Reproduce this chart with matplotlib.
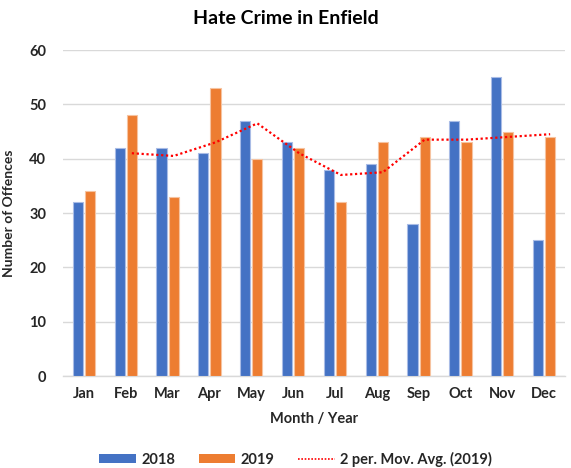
import numpy as np
import pandas as pd
import matplotlib.pyplot as plt
from matplotlib.patches import Patch
from matplotlib.lines import Line2D

plt.rcParams['font.family'] = ['Lato', 'DejaVu Sans']

# data
months = ['Jan', 'Feb', 'Mar', 'Apr', 'May', 'Jun', 'Jul', 'Aug', 'Sep', 'Oct', 'Nov', 'Dec']
y2018 = [32, 42, 42, 41, 47, 43, 38, 39, 28, 47, 55, 25]
y2019 = [34, 48, 33, 53, 40, 42, 32, 43, 44, 43, 45, 44]

# 2 period moving average of 2019 (Excel trendline)
mov_avg = pd.Series(y2019).rolling(2).mean()

blue = '#4472C4'
orange = '#ED7D31'

fig = plt.figure(figsize=(5.71, 4.68), dpi=100)
ax = fig.add_axes([63 / 571, 1 - 376 / 468, 502 / 571, 326 / 468])

x = np.arange(len(months))
w = 0.24
off = 0.145
ax.bar(x - off, y2018, w, color=blue, edgecolor='#A9BCE6', linewidth=0.8, zorder=3)
ax.bar(x + off, y2019, w, color=orange, edgecolor='#F6C3A0', linewidth=0.8, zorder=3)

mask = mov_avg.notna().values
ax.plot((x + off)[mask], mov_avg[mask], color='#FF0000', linestyle=(0, (1, 1.2)),
        linewidth=1.6, zorder=4)

ax.set_xlim(-0.5, 11.5)
ax.set_ylim(0, 60)
ax.set_yticks(range(0, 61, 10))
ax.set_xticks(x)
ax.set_xticklabels(months)
ax.grid(axis='y', color='#D9D9D9', linewidth=1, zorder=0)
ax.set_axisbelow(True)
for s in ['top', 'right', 'left']:
    ax.spines[s].set_visible(False)
ax.spines['bottom'].set_color('#D9D9D9')
ax.spines['bottom'].set_linewidth(1)
ax.tick_params(length=0, labelsize=10.5, colors='#262626', pad=8)
for lbl in ax.get_xticklabels() + ax.get_yticklabels():
    lbl.set_fontweight('bold')
ax.tick_params(axis='y', pad=12)

ax.set_xlabel('Month / Year', fontsize=10.5, fontweight='bold', color='#262626', labelpad=8)
ax.set_ylabel('Number of Offences', fontsize=10, fontweight='bold', color='#262626', labelpad=10)
fig.text(0.5, 1 - 18 / 468, 'Hate Crime in Enfield', ha='center', va='center',
         fontsize=14, fontweight='bold', color='#000000')

handles = [Patch(facecolor=blue, edgecolor='none'),
           Patch(facecolor=orange, edgecolor='none'),
           Line2D([0], [0], color='#FF0000', linestyle=(0, (1, 1)), linewidth=1.2)]
labels = ['2018', '2019', '2 per. Mov. Avg. (2019)']
leg = fig.legend(handles, labels, loc='center', bbox_to_anchor=(0.518, 1 - 459 / 468),
                 ncol=3, frameon=False, fontsize=10.5, handlelength=2.5, handleheight=0.6,
                 columnspacing=1.6, handletextpad=0.4)
for t in leg.get_texts():
    t.set_fontweight('bold')
    t.set_color('#262626')

fig.savefig('out.png', dpi=100)
